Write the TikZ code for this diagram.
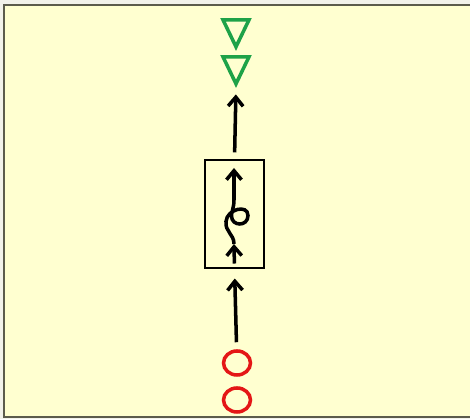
\documentclass[tikz,border=0pt]{standalone}
\usepackage{tikz}
\usetikzlibrary{shapes.geometric,arrows.meta,positioning}

\definecolor{paper}{RGB}{255,255,208}
\definecolor{margin}{RGB}{242,242,234}
\definecolor{rim}{RGB}{92,92,76}
\definecolor{sinkgreen}{RGB}{30,162,72}
\definecolor{sourcered}{RGB}{228,22,22}

\begin{document}
\begin{tikzpicture}[
    sink/.style={draw=sinkgreen, isosceles triangle, isosceles triangle stretches, shape border rotate=270, minimum width=0.52cm, minimum height=0.54cm, inner sep=0pt, line width=2pt},
    source/.style={draw=sourcered, ellipse, minimum width=0.54cm, minimum height=0.48cm, inner sep=0pt, line width=2pt},
    block/.style={draw, rectangle, minimum width=1.18cm, minimum height=2.16cm, line width=0.6pt},
    edge/.style={-{Straight Barb[length=0.18cm, width=0.3cm]}, line width=2pt, draw=black},
]

% Page and frame
\useasboundingbox (0, 0) rectangle (9.4, 8.38);
\clip (0, 0) rectangle (9.4, 8.38);
\fill[margin] (0, 0) rectangle (9.4, 8.38);
\fill[paper, draw=rim, line width=1.2pt] (0.08, 0.04) rectangle (9.6, 8.28);

% Outputs
\node[sink] (out1) at (4.72, 7.82) {};
\node[sink] (out2) at (4.72, 7.08) {};

% Process
\node[block] (proc) at (4.69, 4.10) {};
\coordinate (inlet) at (4.68, 3.50);
\coordinate (outlet) at (4.68, 5.02);

% Inputs
\node[source] (in1) at (4.74, 1.12) {};
\node[source] (in2) at (4.74, 0.38) {};

\draw[edge, shorten <=0.14cm, shorten >=0.2cm] (in1) -- (proc.south);
\draw[edge, shorten <=0.1cm] (proc.south) -- (inlet);
\draw[edge] (inlet) .. controls (4.68, 3.70) and (4.50, 3.74) .. (4.52, 3.95)
    .. controls (4.54, 4.20) and (4.96, 4.30) .. (4.96, 4.07)
    .. controls (4.96, 3.84) and (4.63, 3.85) .. (4.63, 4.06)
    .. controls (4.63, 4.16) and (4.68, 4.22) .. (4.68, 4.38) -- (outlet);
\draw[edge, shorten <=0.14cm, shorten >=0.12cm] (proc.north) -- (out2.apex);

\end{tikzpicture}
\end{document}
